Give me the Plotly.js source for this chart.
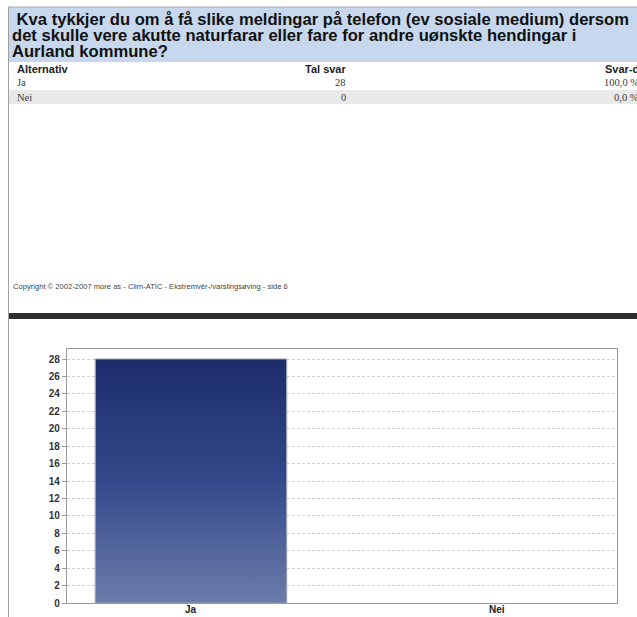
<!DOCTYPE html>
<html>
<head>
<meta charset="utf-8">
<script src="https://cdn.plot.ly/plotly-3.0.1.min.js"></script>
<style>
  html, body { margin: 0; padding: 0; background: #ffffff; }
  #chart { width: 637px; height: 617px; }
</style>
</head>
<body>
<div id="chart"></div>
<script>
// ---- data ----
const categories = ['Ja', 'Nei'];
const counts = [28, 0];
const shares = ['100,0 %', '0,0 %'];
const yTickValues = [0, 2, 4, 6, 8, 10, 12, 14, 16, 18, 20, 22, 24, 26, 28];
const titleLines = [
  'Kva tykkjer du om å få slike meldingar på telefon (ev sosiale medium) dersom',
  'det skulle vere akutte naturfarar eller fare for andre uønskte hendingar i',
  'Aurland kommune?'
];
const tableHeaders = ['Alternativ', 'Tal svar', 'Svar-del'];
const copyrightText = 'Copyright © 2002-2007 more as - Clim-ATIC - Ekstremvêr-/varslingsøving - side 6';

// ---- pixel helpers (page is 637 x 617) ----
const W = 637, H = 617;
const X = p => p / W;
const Y = p => 1 - p / H;

const shapes = [
  // header band
  {type: 'rect', xref: 'paper', yref: 'paper', x0: X(9), x1: X(640), y0: Y(7), y1: Y(62),
   fillcolor: '#c7d8ee', line: {width: 0}, layer: 'below'},
  // top border
  {type: 'line', xref: 'paper', yref: 'paper', x0: X(8), x1: X(640), y0: Y(7), y1: Y(7),
   line: {color: '#a8a8a8', width: 1}},
  // left border
  {type: 'line', xref: 'paper', yref: 'paper', x0: X(8.5), x1: X(8.5), y0: Y(7), y1: Y(620),
   line: {color: '#a0a0a0', width: 1}},
  // grey row band (Nei)
  {type: 'rect', xref: 'paper', yref: 'paper', x0: X(9), x1: X(640), y0: Y(90), y1: Y(104),
   fillcolor: '#e9e9e9', line: {width: 0}, layer: 'below'},
  // dark separator band
  {type: 'rect', xref: 'paper', yref: 'paper', x0: X(9), x1: X(640), y0: Y(313), y1: Y(319),
   fillcolor: '#2e2e2e', line: {width: 0}}
];

const annotations = [];
const titleY = [19, 35.5, 51.5];
titleLines.forEach((t, i) => {
  annotations.push({
    text: (i === 0 ? '&nbsp;' : '') + t, xref: 'paper', yref: 'paper',
    x: X(10), y: Y(titleY[i]), xanchor: 'left', yanchor: 'middle',
    showarrow: false, font: {family: 'Liberation Sans, Arial, sans-serif', size: 16.6, color: '#111111', weight: 'bold'}
  });
});
// table headers
const hdrFont = {family: 'Liberation Sans, Arial, sans-serif', size: 11, color: '#222222', weight: 'bold'};
annotations.push({text: tableHeaders[0], xref: 'paper', yref: 'paper', x: X(15), y: Y(69),
  xanchor: 'left', yanchor: 'middle', showarrow: false, font: hdrFont});
annotations.push({text: tableHeaders[1], xref: 'paper', yref: 'paper', x: X(348), y: Y(69),
  xanchor: 'right', yanchor: 'middle', showarrow: false, font: hdrFont});
annotations.push({text: tableHeaders[2], xref: 'paper', yref: 'paper', x: X(603), y: Y(69),
  xanchor: 'left', yanchor: 'middle', showarrow: false, font: hdrFont});
// table rows
const rowFont = {family: 'Liberation Serif, Times New Roman, serif', size: 10.5, color: '#3a3a3a'};
const rowY = [83, 97];
categories.forEach((c, i) => {
  annotations.push({text: c, xref: 'paper', yref: 'paper', x: X(15), y: Y(rowY[i]),
    xanchor: 'left', yanchor: 'middle', showarrow: false, font: rowFont});
  annotations.push({text: String(counts[i]), xref: 'paper', yref: 'paper', x: X(348), y: Y(rowY[i]),
    xanchor: 'right', yanchor: 'middle', showarrow: false, font: rowFont});
  annotations.push({text: shares[i], xref: 'paper', yref: 'paper', x: X(641), y: Y(rowY[i]),
    xanchor: 'right', yanchor: 'middle', showarrow: false, font: rowFont});
});
// copyright
annotations.push({text: copyrightText, xref: 'paper', yref: 'paper', x: X(11), y: Y(287),
  xanchor: 'left', yanchor: 'middle', showarrow: false,
  font: {family: 'Liberation Sans, Arial, sans-serif', size: 7.6, color: '#444444'}});
// category labels under the bars
categories.forEach(c => {
  annotations.push({text: c, xref: 'x', yref: 'paper', x: c, y: Y(616.5),
    xanchor: 'center', yanchor: 'bottom', showarrow: false,
    font: {family: 'Liberation Sans, Arial, sans-serif', size: 10, color: '#222222', weight: 'bold'}});
});

const trace = {
  type: 'bar',
  x: categories,
  y: counts,
  width: 0.625,
  marker: {color: '#3b5190', line: {color: counts.map(v => v > 0 ? '#9aa0b4' : 'rgba(0,0,0,0)'), width: 1.2}},
  hoverinfo: 'x+y'
};

const layout = {
  width: W, height: H,
  margin: {l: 0, r: 0, t: 0, b: 0, pad: 0},
  paper_bgcolor: '#ffffff',
  plot_bgcolor: '#ffffff',
  showlegend: false,
  xaxis: {
    domain: [X(67), X(617)],
    range: [-0.405, 1.392],
    type: 'category',
    showgrid: false,
    showticklabels: false,
    showline: true, mirror: true, linecolor: '#9a9a9a', linewidth: 1.2,
    ticks: '', zeroline: false
  },
  yaxis: {
    domain: [1 - 603 / H, 1 - 349 / H],
    range: [0, 29.15],
    tickvals: yTickValues,
    showgrid: true, gridcolor: '#d2d2d2', griddash: '3px,2px', gridwidth: 1,
    showline: true, mirror: true, linecolor: '#9a9a9a', linewidth: 1.2,
    ticks: 'outside', ticklen: 4, tickcolor: '#9a9a9a',
    zeroline: false,
    tickfont: {family: 'Liberation Sans, Arial, sans-serif', size: 10, color: '#333333', weight: 'bold'}
  },
  shapes: shapes,
  annotations: annotations
};

Plotly.newPlot('chart', [trace], layout, {displayModeBar: false, staticPlot: true}).then(gd => {
  // apply a vertical gradient to the bar, as in the original
  const svg = gd.querySelector('svg.main-svg');
  const NS = 'http://www.w3.org/2000/svg';
  let defs = svg.querySelector('defs');
  if (!defs) { defs = document.createElementNS(NS, 'defs'); svg.insertBefore(defs, svg.firstChild); }
  const grad = document.createElementNS(NS, 'linearGradient');
  grad.setAttribute('id', 'barGrad');
  grad.setAttribute('x1', '0'); grad.setAttribute('y1', '0');
  grad.setAttribute('x2', '0'); grad.setAttribute('y2', '1');
  [['0', '#1c2c6b'], ['0.5', '#34498a'], ['1', '#6b7cab']].forEach(([o, c]) => {
    const s = document.createElementNS(NS, 'stop');
    s.setAttribute('offset', o); s.setAttribute('stop-color', c);
    grad.appendChild(s);
  });
  defs.appendChild(grad);
  gd.querySelectorAll('.barlayer .point path').forEach(p => {
    p.style.fill = 'url(#barGrad)';
  });
});
</script>
</body>
</html>
